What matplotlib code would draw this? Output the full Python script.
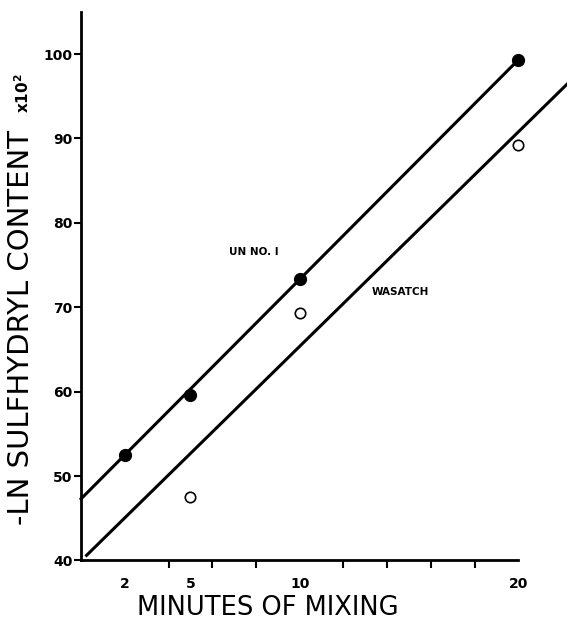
import matplotlib.pyplot as plt

# data
un_x = [2, 5, 10, 20]
un_y = [52.5, 59.6, 73.3, 99.3]
was_x = [5, 10, 20]
was_y = [47.5, 69.3, 89.2]

# fitted lines as drawn on the original
un_line_x = [0, 20]
un_line_y = [47.3, 99.3]
was_line_x = [0.25, 22.3]
was_line_y = [40.6, 96.6]

xticks_major = [2, 5, 10, 20]
xticks_minor = [2, 4, 6, 8, 10, 12, 14, 16, 18, 20]
yticks = [40, 50, 60, 70, 80, 90, 100]

plt.rcParams['font.family'] = ['DejaVu Sans']

fig = plt.figure(figsize=(5.67, 6.22), dpi=100)
ax = fig.add_axes([0.143, 0.099, 0.771, 0.882])

ax.plot(un_line_x, un_line_y, color='black', lw=2.2, clip_on=False, zorder=2)
ax.plot(was_line_x, was_line_y, color='black', lw=2.2, clip_on=False, zorder=2)
ax.plot(un_x, un_y, 'o', color='black', ms=8.5, clip_on=False, zorder=3)
ax.plot(was_x, was_y, 'o', mfc='white', mec='black', mew=1.2, ms=7.5,
        clip_on=False, zorder=3)

ax.text(7.9, 76.6, 'UN NO. I', fontsize=7.5, fontweight='bold', ha='center', va='center')
ax.text(13.3, 71.8, 'WASATCH', fontsize=7.5, fontweight='bold', ha='left', va='center')

ax.set_xlim(0, 20)
ax.set_ylim(40, 105)

ax.spines['top'].set_visible(False)
ax.spines['right'].set_visible(False)
ax.spines['left'].set_linewidth(2)
ax.spines['bottom'].set_linewidth(2)

ax.set_xticks(xticks_major)
ax.set_xticklabels([str(v) for v in xticks_major], fontsize=10, fontweight='bold')
ax.set_xticks(xticks_minor, minor=True)
ax.tick_params(axis='x', which='major', length=0, pad=12)
ax.tick_params(axis='x', which='minor', length=6, width=1.5, direction='out')

ax.set_yticks(yticks)
ax.set_yticklabels([str(v) for v in yticks], fontsize=10, fontweight='bold')
ax.tick_params(axis='y', length=5, width=1.5, direction='out', pad=1)

fig.text(268 / 567, 1 - 615 / 622, 'MINUTES OF MIXING', fontsize=18.5,
         ha='center', va='baseline')
fig.text(21 / 567, 1 - 525 / 622, '-LN SULFHYDRYL CONTENT', fontsize=21,
         rotation=90, ha='center', va='bottom')
fig.text(23 / 567, 1 - 113 / 622, r'x$\mathbf{10^2}$', fontsize=11,
         fontweight='bold', rotation=90, ha='center', va='bottom')

fig.savefig('out.png', dpi=100)
